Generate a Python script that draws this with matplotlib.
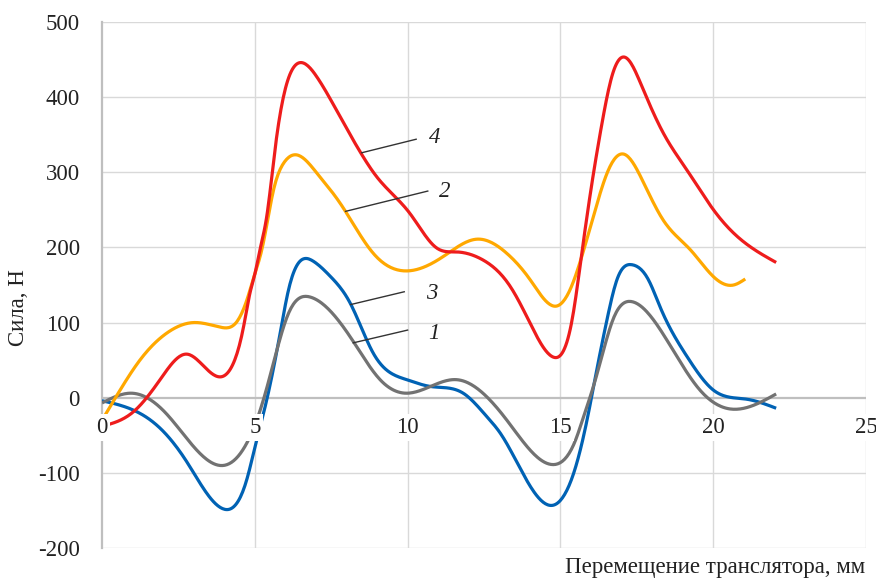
import numpy as np
import matplotlib
matplotlib.use("Agg")
import matplotlib.pyplot as plt
from matplotlib.transforms import offset_copy

plt.rcParams['font.family'] = ['Liberation Serif', 'DejaVu Serif']

# ---- data ----
x_red = [0, 1.02, 1.9, 2.77, 3.92, 4.3, 4.63, 4.84, 5.01, 5.17, 5.39, 5.66, 5.94, 6.5, 7.03,
         7.79, 8.45, 8.99, 10.08, 10.96, 11.61, 12.48, 13.36, 14.01, 14.77, 15.38, 15.7,
         16.03, 16.36, 16.68, 17.12, 17.67, 18.37, 19.14, 20.01, 20.67, 22.06]
y_red = [-38, -19, 24, 58, 28, 46, 94, 139, 166, 197, 241, 330, 401, 446, 427,
         374, 327, 294, 245, 199, 194, 183, 148, 99, 54, 103, 192,
         285, 365, 427, 453, 414, 352, 303, 250, 219, 180]

x_orange = [0, 0.59, 1.24, 2.12, 2.99, 3.86, 4.41, 4.74, 5.01, 5.23, 5.61, 5.94, 6.39, 7.03,
            7.79, 8.88, 10.08, 11.17, 12.27, 13.25, 14.01, 14.88, 15.26, 15.7, 16.14, 16.57,
            17.09, 17.7, 18.37, 19.25, 20.01, 20.67, 21.05]
y_orange = [-30, 10, 50, 86, 100, 94, 101, 130, 166, 197, 276, 312, 323, 299,
            259, 192, 169, 188, 211, 192, 157, 122, 139, 188, 250, 303,
            324, 288, 236, 197, 161, 150, 158]

x_blue = [0, 1.0, 1.86, 2.77, 3.97, 4.73, 5.01, 5.39, 5.83, 6.1, 6.9, 7.46, 8.12, 8.88, 9.97,
          10.74, 11.82, 12.59, 13.03, 14.77, 15.43, 15.87, 16.19, 16.52, 16.85, 17.34, 17.88,
          18.26, 19.14, 20.01, 21.1, 22.06]
y_blue = [-4, -16, -39, -85, -148, -110, -65, -3, 86, 143, 182, 162, 126, 59, 24,
          15, 6, -25, -47, -143, -101, -30, 37, 103, 157, 177, 157,
          121, 55, 10, -2, -14]

x_gray = [0, 0.97, 2.1, 4.0, 4.73, 5.28, 5.72, 6.1, 6.81, 8.22, 9.1, 9.97, 11.61, 13.25, 14.77,
          15.5, 15.76, 16.08, 16.41, 16.74, 17.32, 17.88, 18.48, 19.57, 20.56, 22.06]
y_gray = [-7, 6, -21, -90, -61, -3, 63, 112, 134, 75, 24, 6, 24, -30, -89,
          -56, -25, 15, 63, 106, 128, 112, 77, 10, -15, 5]

x_ticks = [0, 5, 10, 15, 20, 25]
y_ticks = [-200, -100, 0, 100, 200, 300, 400, 500]

labels = ['4', '2', '3', '1']
label_line_start = [(8.50, 326), (7.97, 248), (8.14, 124), (8.22, 73)]
label_line_end = [(10.28, 344), (10.66, 275), (9.89, 141), (10.0, 90)]
label_text_pos = [(10.70, 346), (11.03, 274), (10.61, 139), (10.66, 86)]

xlabel = 'Перемещение транслятора, мм'
ylabel = 'Сила, Н'

# ---- figure ----
W, H = 876, 578
fig = plt.figure(figsize=(W / 100, H / 100), dpi=100)
L, R, T, B = 102, 866, 22, 548
ax = fig.add_axes([L / W, 1 - B / H, (R - L) / W, (B - T) / H])
ax.set_xlim(0, 25)
ax.set_ylim(-200, 500)


def smooth(xs, ys, n=600):
    """Natural cubic spline through the points (smoothed line style)."""
    x = np.asarray(xs, float)
    y = np.asarray(ys, float)
    m = len(x)
    h = np.diff(x)
    A = np.zeros((m, m))
    rhs = np.zeros(m)
    A[0, 0] = 1.0
    A[-1, -1] = 1.0
    for i in range(1, m - 1):
        A[i, i - 1] = h[i - 1]
        A[i, i] = 2 * (h[i - 1] + h[i])
        A[i, i + 1] = h[i]
        rhs[i] = 6 * ((y[i + 1] - y[i]) / h[i] - (y[i] - y[i - 1]) / h[i - 1])
    M = np.linalg.solve(A, rhs)
    xx = np.linspace(x[0], x[-1], n)
    k = np.clip(np.searchsorted(x, xx) - 1, 0, m - 2)
    x0, x1 = x[k], x[k + 1]
    hk = x1 - x0
    a = (x1 - xx) / hk
    b = (xx - x0) / hk
    yy = (a * y[k] + b * y[k + 1]
          + ((a ** 3 - a) * M[k] + (b ** 3 - b) * M[k + 1]) * hk ** 2 / 6.0)
    return xx, yy


# grid
for xv in x_ticks[1:]:
    ax.axvline(xv, color='#d9d9d9', lw=1.0, zorder=0)
for yv in y_ticks:
    if yv != 0:
        ax.axhline(yv, color='#d9d9d9', lw=1.0, zorder=0)
ax.axhline(0, color='#bfbfbf', lw=1.6, zorder=1)

for s in ['top', 'right', 'bottom']:
    ax.spines[s].set_visible(False)
ax.spines['left'].set_color('#bfbfbf')
ax.spines['left'].set_linewidth(1.6)
ax.spines['left'].set_zorder(1)

lw = 2.3
series = [
    (x_blue, y_blue, '#0062b4'),
    (x_gray, y_gray, '#727272'),
    (x_orange, y_orange, '#ffa800'),
    (x_red, y_red, '#ee1c1c'),
]
for xs, ys, c in series:
    cx, cy = smooth(xs, ys)
    ax.plot(cx, cy, color=c, lw=lw, solid_capstyle='butt', zorder=3)

# y ticks
ax.set_yticks(y_ticks)
ax.set_yticklabels([str(v) for v in y_ticks])
ax.tick_params(axis='y', length=0, pad=16, labelsize=16.5, colors='#222222')
ax.set_xticks([])

# x tick labels on the zero line with white background
tr = offset_copy(ax.transData, fig=fig, x=0, y=-30, units='dots')
for xv in x_ticks:
    ax.text(xv, 0, str(xv), transform=tr, ha='center', va='center', fontsize=16.5,
            color='#222222', zorder=5, clip_on=False,
            bbox=dict(boxstyle='square,pad=0.12', fc='white', ec='none'))

# callouts
for lab, p0, p1, pt in zip(labels, label_line_start, label_line_end, label_text_pos):
    ax.plot([p0[0], p1[0]], [p0[1], p1[1]], color='#333333', lw=1.0, zorder=4)
    ax.text(pt[0], pt[1], lab, ha='left', va='center', fontsize=16.5, style='italic',
            color='#222222', zorder=5)

fig.text(19 / W, 1 - 308 / H, ylabel, rotation=90, ha='center', va='center',
         fontsize=16.5, color='#222222')
fig.text(865 / W, 1 - 567 / H, xlabel, ha='right', va='center', fontsize=16.5,
         color='#222222')

fig.savefig('out.png', dpi=100)
